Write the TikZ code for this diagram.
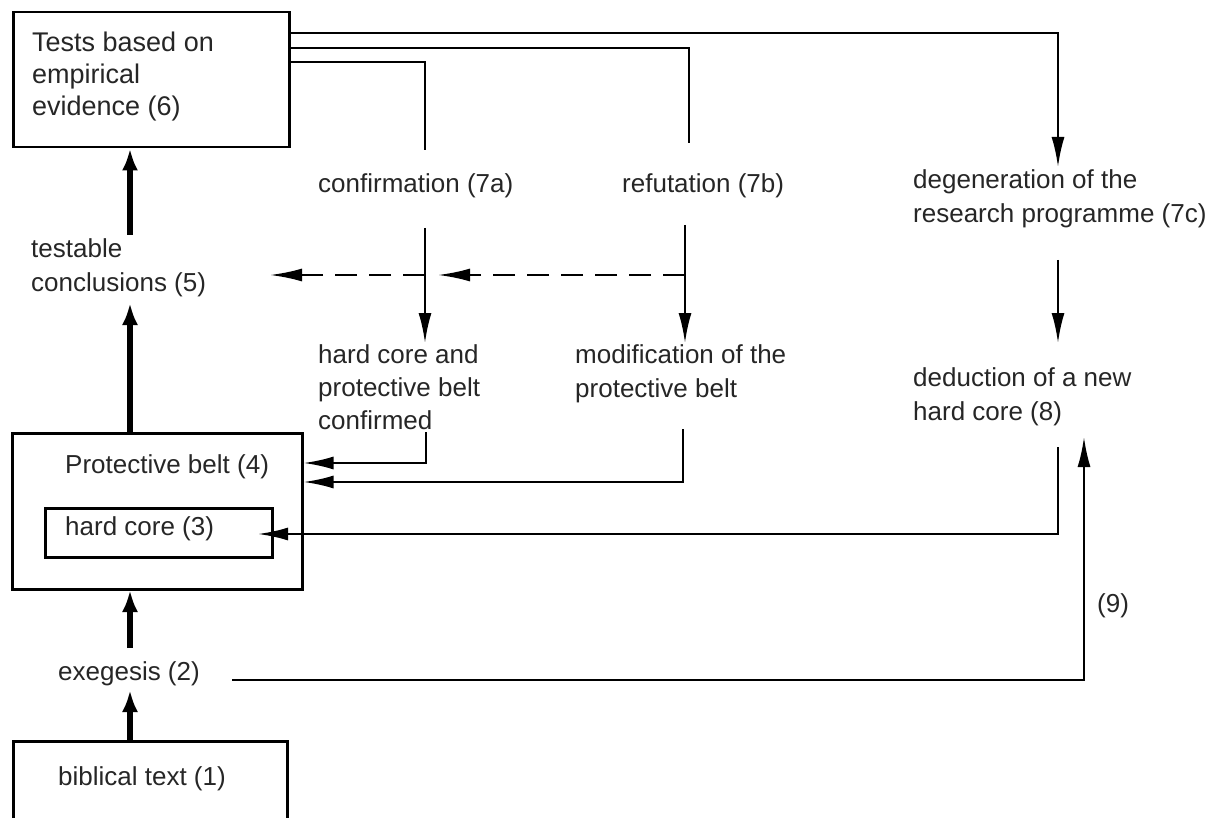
\documentclass[tikz,border=0pt]{standalone}
\usepackage{fontspec}
\setmainfont{Liberation Sans}
\usetikzlibrary{arrows.meta}
\begin{document}
\begin{tikzpicture}[x=1pt,y=-1pt,
  box/.style={draw, line width=2.5pt, rectangle, inner sep=0pt, anchor=north west},
  lbl/.style={anchor=base west, inner sep=0pt, align=left, font=\fontsize{26}{34}\selectfont, text=black!85},
  thin/.style={line width=2.4pt},
  arr/.style={thin, -{Latex[length=30pt,width=13pt]}},
  darr/.style={thin, dash pattern=on 22pt off 12pt, -{Latex[length=32pt,width=13pt]}},
  thickarr/.style={line width=6.5pt, -{Latex[length=22pt,width=16pt]}}]
\useasboundingbox (0,0) rectangle (1231,818);
% boxes
\node[box, minimum width=276pt, minimum height=135pt] (b6) at (12,11) {};
\node[box, minimum width=290pt, minimum height=156pt] (b4) at (11,432) {};
\node[box, minimum width=227pt, minimum height=49pt] (b3) at (44,507) {};
\node[box, minimum width=274pt, minimum height=110pt] (b1) at (12,740) {};
% labels (anchor = baseline of last line)
\node[lbl, font=\fontsize{27}{32}\selectfont] (t6) at (32,116) {Tests based on\\empirical\\evidence (6)};
\node[lbl] (t5) at (31,291) {testable\\conclusions (5)};
\node[lbl] (t4) at (65,473) {Protective belt (4)};
\node[lbl] (t3) at (65,535) {hard core (3)};
\node[lbl] (t2) at (58,680) {exegesis (2)};
\node[lbl] (t1) at (58,785) {biblical text (1)};
\node[lbl] (t7a) at (318,193) {confirmation (7a)};
\node[lbl] (t7b) at (622,193) {refutation (7b)};
\node[lbl] (t7c) at (913,223) {degeneration of the\\research programme (7c)};
\node[lbl, font=\fontsize{26}{33}\selectfont] (tconf) at (318,429) {hard core and\\protective belt\\confirmed};
\node[lbl] (tmod) at (575,397) {modification of the\\protective belt};
\node[lbl] (t8) at (913,420) {deduction of a new\\hard core (8)};
\node[lbl] (t9) at (1097,612) {(9)};
% free ends
\coordinate (c5top) at (130,235);
\coordinate (c5bot) at (130,303);
\coordinate (c2top) at (130,590);
\coordinate (c2bot) at (130,648);
\coordinate (c1to2) at (130,690);
\coordinate (degtip) at (1058,167);
\coordinate (reftop) at (689,143);
\coordinate (conftop) at (425,150);
\coordinate (confA) at (425,228);
\coordinate (confB) at (425,343);
\coordinate (refA) at (685,225);
\coordinate (refB) at (685,343);
\coordinate (dashA) at (270,275);
\coordinate (dashB) at (438,275);
\coordinate (cfd) at (426,432);
\coordinate (mod) at (683,429);
\coordinate (degA) at (1058,260);
\coordinate (degB) at (1058,343);
\coordinate (dedA) at (1058,447);
\coordinate (hctip) at (258,534);
\coordinate (exA) at (232,680);
\coordinate (exB) at (1084,437);
% thick arrows
\draw[thickarr] (c5top) -- (c5top |- b6.south);
\draw[thickarr] (c5bot |- b4.north) -- (c5bot);
\draw[thickarr] (c2bot) -- (c2top);
\draw[thickarr] (c1to2 |- b1.north) -- (c1to2);
% lines from tests box
\draw[arr] (b6.east |- 0,33) -| (degtip);
\draw[thin] (b6.east |- 0,48) -| (reftop);
\draw[thin] (b6.east |- 0,62) -| (conftop);
% confirmation / refutation
\draw[arr] (confA) -- (confB);
\draw[arr] (refA) -- (refB);
\draw[darr] (confA |- dashA) -- (dashA);
\draw[darr] (refA |- dashB) -- (dashB);
% back to protective belt
\draw[arr] (cfd) |- (b4.east |- 0,463);
\draw[arr] (mod) |- (b4.east |- 0,482);
% degeneration
\draw[arr] (degA) -- (degB);
\draw[arr] (dedA) |- (hctip);
\draw[arr] (exA) -| (exB);
\end{tikzpicture}
\end{document}
